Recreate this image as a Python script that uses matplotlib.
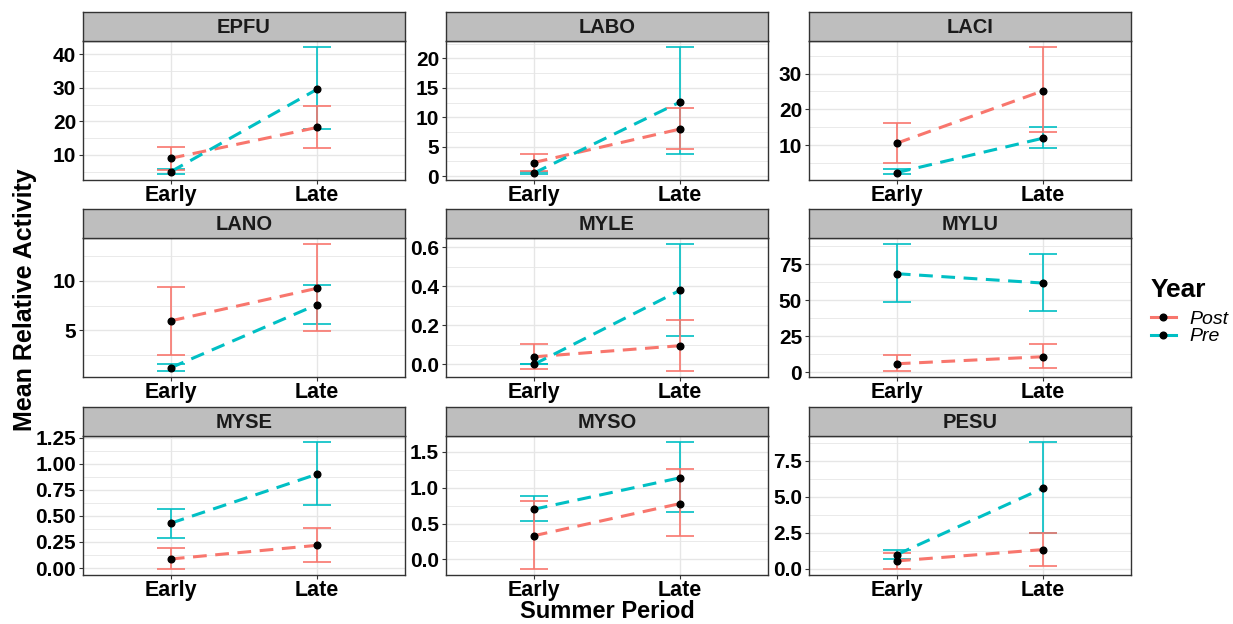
import matplotlib
matplotlib.use("Agg")
import matplotlib.pyplot as plt
from matplotlib.ticker import MultipleLocator, FormatStrFormatter
from matplotlib.lines import Line2D
import numpy as np

plt.rcParams['font.family'] = ['Liberation Sans', 'DejaVu Sans']

# ---------------- data ----------------
species = ["EPFU", "LABO", "LACI", "LANO", "MYLE", "MYLU", "MYSE", "MYSO", "PESU"]
periods = ["Early", "Late"]

post_mean = [[9.0, 18.2], [2.3, 8.0], [10.6, 25.2], [5.95, 9.25], [0.039, 0.096],
             [6.0, 10.9], [0.087, 0.218], [0.33, 0.78], [0.54, 1.33]]
post_lo = [[5.5, 12.1], [0.9, 4.55], [5.2, 13.6], [2.5, 4.9], [-0.024, -0.032],
           [1.2, 2.8], [-0.006, 0.054], [-0.13, 0.32], [0.0, 0.16]]
post_hi = [[12.4, 24.5], [3.7, 11.6], [16.1, 37.3], [9.4, 13.7], [0.103, 0.23],
           [11.8, 19.4], [0.19, 0.385], [0.81, 1.26], [1.12, 2.47]]

pre_mean = [[5.0, 29.6], [0.5, 12.6], [2.4, 12.0], [1.2, 7.6], [0.0, 0.38],
            [68.5, 62.0], [0.43, 0.90], [0.70, 1.14], [0.98, 5.61]]
pre_lo = [[4.4, 17.7], [0.4, 3.7], [2.1, 9.3], [0.9, 5.6], [0.0, 0.147],
          [48.6, 42.8], [0.285, 0.60], [0.54, 0.66], [0.70, 2.47]]
pre_hi = [[5.8, 42.1], [0.67, 21.9], [3.3, 15.2], [1.6, 9.6], [0.002, 0.615],
          [88.9, 82.2], [0.564, 1.205], [0.89, 1.635], [1.30, 8.8]]

y_step = [10, 5, 10, 5, 0.2, 25, 0.25, 0.5, 2.5]
y_decimals = [0, 0, 0, 0, 1, 0, 2, 1, 1]

year_labels = ["Post", "Pre"]
colors = {"Post": "#F8766D", "Pre": "#00BFC4"}

# ---------------- layout ----------------
W, H = 1233, 624
fig = plt.figure(figsize=(W / 100, H / 100), dpi=100)

col_left = [83, 446, 809]
panel_w = 322
strip_top = [12, 209, 407]
plot_top = [41, 238, 436]
plot_bot = [180, 377, 575]

grid_col = "#E6E6E6"
border_col = "#333333"

x = np.arange(1, len(periods) + 1)

series = {
    "Post": (post_mean, post_lo, post_hi),
    "Pre": (pre_mean, pre_lo, pre_hi),
}

for i, sp in enumerate(species):
    r, c = divmod(i, 3)
    l = col_left[c]
    ax = fig.add_axes([l / W, 1 - plot_bot[r] / H, panel_w / W,
                       (plot_bot[r] - plot_top[r]) / H])
    sax = fig.add_axes([l / W, 1 - plot_top[r] / H, panel_w / W,
                        (plot_top[r] - strip_top[r]) / H])
    sax.set_facecolor("#BEBEBE")
    sax.set_xticks([]); sax.set_yticks([])
    for s in sax.spines.values():
        s.set_color(border_col); s.set_linewidth(1.0)
    sax.text(0.5, 0.45, sp, ha="center", va="center", fontsize=14.5,
             fontweight="bold", color="#1A1A1A", transform=sax.transAxes)

    # data-driven limits (ggplot-like 5% expansion)
    lo_all = min(min(post_lo[i]), min(pre_lo[i]))
    hi_all = max(max(post_hi[i]), max(pre_hi[i]))
    span = hi_all - lo_all
    ax.set_ylim(lo_all - 0.05 * span, hi_all + 0.05 * span)
    ax.set_xlim(0.4, 2.6)

    for order, yr in enumerate(["Pre", "Post"]):
        m, lo, hi = series[yr]
        mv = np.array(m[i]); lov = np.array(lo[i]); hiv = np.array(hi[i])
        ax.errorbar(x, mv, yerr=[mv - lov, hiv - mv], fmt="none",
                    ecolor=colors[yr], elinewidth=1.2, capsize=10,
                    capthick=1.2, zorder=3 + order)
    for yr in ["Post", "Pre"]:
        m, lo, hi = series[yr]
        ax.plot(x, m[i], color=colors[yr], lw=2.2, dashes=(4.5, 2.8),
                zorder=6)
    for yr in ["Post", "Pre"]:
        m, lo, hi = series[yr]
        ax.plot(x, m[i], "o", color="black", ms=4.8, zorder=7)

    ax.set_xticks(x)
    ax.set_xticklabels(periods, fontsize=15.5, fontweight="bold")
    ax.yaxis.set_major_locator(MultipleLocator(y_step[i]))
    ax.yaxis.set_minor_locator(MultipleLocator(y_step[i] / 2))
    ax.yaxis.set_major_formatter(FormatStrFormatter("%%.%df" % y_decimals[i]))
    for lab in ax.get_yticklabels():
        lab.set_fontsize(15); lab.set_fontweight("bold")
    ax.tick_params(axis="both", which="major", length=3, width=0.8,
                   color=border_col, pad=2, labelcolor="black")
    ax.tick_params(axis="y", which="minor", length=0)
    ax.tick_params(axis="x", pad=0.5)
    ax.grid(True, which="major", color=grid_col, lw=1.0, zorder=0)
    ax.grid(True, which="minor", axis="y", color=grid_col, lw=0.6, zorder=0)
    ax.set_axisbelow(True)
    for s in ax.spines.values():
        s.set_color(border_col); s.set_linewidth(1.0)

# axis titles
fig.text(25 / W, 1 - 300 / H, "Mean Relative Activity", rotation=90,
         ha="center", va="center", fontsize=18, fontweight="bold")
fig.text(607 / W, 1 / H, "Summer Period", ha="center", va="bottom",
         fontsize=17, fontweight="bold")

# legend
handles = [Line2D([0], [0], color=colors[y], lw=2.2, marker="o",
                  markerfacecolor="black", markeredgecolor="black", ms=4.8)
           for y in year_labels]
leg = fig.legend(handles, year_labels, loc="upper left",
                 bbox_to_anchor=(1143 / W, 1 - 270 / H), frameon=False,
                 title="Year", handlelength=1.3, handletextpad=0.7,
                 labelspacing=0.0, borderaxespad=0,
                 prop={"size": 14, "style": "italic"},
                 title_fontproperties={"size": 19, "weight": "bold"})
leg._legend_box.align = "left"
leg._legend_box.sep = 6

fig.savefig("out.png", dpi=100)
